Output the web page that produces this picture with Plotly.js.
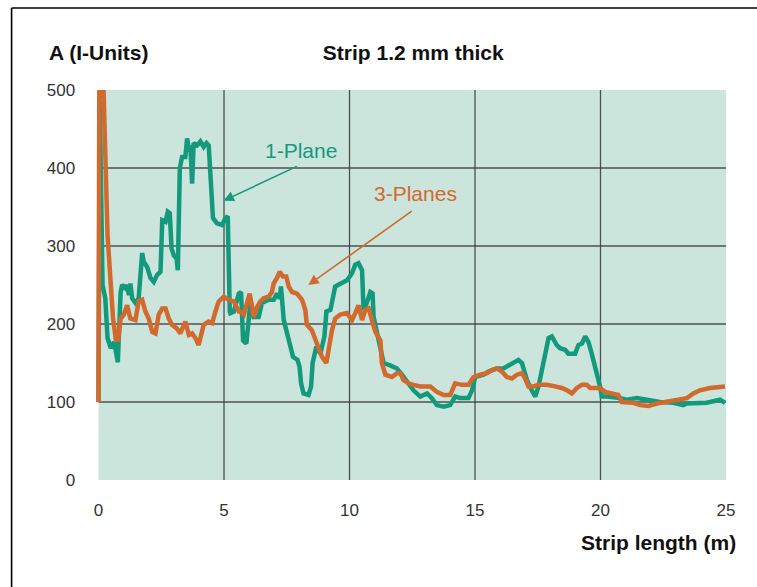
<!DOCTYPE html>
<html>
<head>
<meta charset="utf-8">
<script src="https://cdn.plot.ly/plotly-3.0.1.min.js"></script>
<style>
  html, body { margin: 0; padding: 0; background: #ffffff; }
  #chart { width: 757px; height: 587px; }
</style>
</head>
<body>
<div id="chart"></div>
<script>
// ---- Data ----
const chartTitle = "Strip 1.2 mm thick";
const yTitle = "A (I-Units)";
const xTitle = "Strip length (m)";

const oneName = "1-Plane";
const oneX = [0, 0.05, 0.16, 0.27, 0.36, 0.49, 0.62, 0.77, 0.88, 0.94, 1.07, 1.14, 1.21, 1.27, 1.34, 1.47, 1.60,
  1.74, 1.80, 1.94, 2.07, 2.20, 2.34, 2.47, 2.54, 2.67, 2.76, 2.84, 2.91, 3.00, 3.11, 3.16, 3.24, 3.33, 3.46, 3.53, 3.62,
  3.66, 3.73, 3.79, 3.93, 4.06, 4.19, 4.30, 4.39, 4.46, 4.56, 4.72, 4.92, 5.06, 5.15, 5.23, 5.25, 5.39, 5.59, 5.68, 5.76,
  5.89, 6.05, 6.18, 6.38, 6.51, 6.78, 6.98, 7.11, 7.22, 7.27, 7.38, 7.54, 7.75, 7.93, 8.01, 8.07, 8.17, 8.37, 8.47, 8.53,
  8.68, 8.84, 9.00, 9.08, 9.24, 9.43, 9.63, 9.90, 10.10, 10.23, 10.36, 10.50, 10.56, 10.69, 10.83, 10.92, 10.96, 11.09,
  11.23, 11.36, 11.62, 11.89, 12.09, 12.29, 12.55, 12.82, 13.09, 13.28, 13.48, 13.75, 14.01, 14.21, 14.41, 14.74, 14.88,
  15.01, 15.34, 15.54, 15.87, 16.13, 16.33, 16.53, 16.73, 16.87, 17.07, 17.26, 17.40, 17.53, 17.73, 17.93, 18.06, 18.26,
  18.39, 18.59, 18.72, 18.99, 19.12, 19.26, 19.39, 19.52, 19.65, 19.78, 19.92, 19.98, 20.05, 20.25, 20.78, 21.05, 21.45,
  21.84, 22.37, 22.90, 23.30, 23.44, 23.70, 24.23, 24.63, 24.76, 24.96];
const oneA = [100, 485, 250, 233, 182, 169, 177, 151, 240, 250, 246, 250, 237, 252, 233, 227, 233,
  291, 280, 273, 259, 254, 263, 267, 333, 331, 344, 342, 297, 288, 284, 269, 400, 414, 414, 438, 421,
  429, 380, 432, 429, 434, 427, 432, 429, 387, 336, 329, 327, 336, 338, 216, 214, 216, 239, 241, 179,
  175, 227, 209, 209, 227, 231, 231, 239, 233, 248, 205, 184, 158, 154, 145, 124, 111, 109, 120, 150,
  171, 162, 184, 216, 218, 248, 252, 256, 265, 276, 278, 269, 218, 227, 241, 239, 209, 188,
  171, 150, 147, 143, 135, 126, 115, 107, 111, 105, 96, 94, 96, 107, 105, 105, 115,
  132, 135, 139, 143, 143, 147, 150, 154, 150, 128, 115, 107, 120, 150, 182, 184, 173,
  169, 167, 162, 162, 173, 175, 184, 177, 162, 145, 132, 120, 107, 107, 105, 103, 105,
  103, 100, 99, 96, 98, 98, 99, 102, 103, 99];

const threeName = "3-Planes";
const threeX = [0, 0.03, 0.20, 0.23, 0.29, 0.36, 0.49, 0.58, 0.69, 0.79, 0.88, 1.01, 1.14, 1.27, 1.47, 1.60, 1.74, 1.87, 2.00,
  2.14, 2.27, 2.40, 2.54, 2.67, 2.80, 2.93, 3.13, 3.26, 3.46, 3.60, 3.73, 3.86, 3.99, 4.06, 4.19, 4.39, 4.53, 4.66,
  4.79, 4.99, 5.19, 5.39, 5.59, 5.65, 5.79, 5.92, 6.02, 6.12, 6.18, 6.32, 6.45, 6.58, 6.78, 6.91, 6.98, 7.11, 7.22,
  7.35, 7.48, 7.58, 7.71, 7.91, 8.11, 8.24, 8.30, 8.50, 8.64, 8.77, 8.90, 9.08, 9.17, 9.30, 9.43, 9.63, 9.90, 10.10,
  10.23, 10.36, 10.50, 10.63, 10.76, 10.90, 11.03, 11.23, 11.29, 11.43, 11.69, 11.89, 12.02, 12.15, 12.35, 12.55,
  12.82, 13.22, 13.48, 13.75, 14.01, 14.21, 14.48, 14.74, 14.94, 15.21, 15.47, 15.67, 15.87, 16.07, 16.27, 16.47,
  16.67, 16.87, 17.00, 17.13, 17.33, 17.53, 17.86, 18.19, 18.46, 18.66, 18.86, 19.06, 19.26, 19.45, 19.59, 19.79,
  19.98, 20.18, 20.51, 20.71, 20.85, 21.11, 21.31, 21.58, 21.91, 22.24, 22.64, 23.04, 23.44, 23.70, 23.96, 24.36,
  24.76, 24.96];
const threeA = [100, 500, 500, 464, 378, 314, 250, 207, 180, 180, 207, 212, 224, 207, 205, 229, 231, 216, 207,
  190, 188, 212, 220, 220, 207, 199, 194, 188, 203, 186, 188, 182, 173, 182, 199, 203, 201, 216,
  229, 235, 231, 229, 216, 216, 212, 227, 239, 222, 209, 222, 229, 233, 235, 241, 252, 259, 267,
  261, 261, 248, 241, 239, 231, 218, 199, 192, 179, 167, 158, 150, 167, 192, 207, 212, 214, 205,
  214, 224, 205, 218, 220, 205, 190, 179, 150, 135, 132, 137, 137, 128, 124, 122,
  120, 120, 113, 109, 109, 124, 122, 122, 132, 135, 137, 141, 143, 139, 132, 130,
  135, 137, 130, 120, 120, 122, 122, 120, 118, 115, 111, 118, 122, 122, 118, 118,
  118, 113, 111, 109, 100, 100, 99, 96, 95, 98, 100, 103, 105, 111, 115, 118,
  120, 120];

const xTicks = [0, 5, 10, 15, 20, 25];
const yTicks = [0, 100, 200, 300, 400, 500];
const xGrid = [5, 10, 15, 20];
const yGrid = [100, 200, 300, 400];
const xMin = 0, xMax = 25, yMin = 0, yMax = 500;

// ---- Styles ----
const GREEN = "#139a7c";
const ORANGE = "#d2692d";
const BG = "#cbe4dc";
const GRID = "rgba(55,55,55,0.85)";
const FONT = "Liberation Sans, Arial, Helvetica, sans-serif";

const traces = [
  { x: oneX, y: oneA, name: oneName, type: "scatter", mode: "lines",
    line: { color: GREEN, width: 4.5, shape: "linear" } },
  { x: threeX, y: threeA, name: threeName, type: "scatter", mode: "lines",
    line: { color: ORANGE, width: 4.5, shape: "linear" } }
];

const shapes = [];
// shaded data area
shapes.push({ type: "rect", xref: "x", yref: "y", x0: xMin, x1: xMax, y0: yMin, y1: yMax,
  fillcolor: BG, line: { width: 0 }, layer: "below" });
xGrid.forEach(v => shapes.push({ type: "line", xref: "x", yref: "y", x0: v, x1: v, y0: yMin, y1: yMax,
  line: { color: GRID, width: 1.3 }, layer: "below" }));
yGrid.forEach(v => shapes.push({ type: "line", xref: "x", yref: "y", x0: xMin, x1: xMax, y0: v, y1: v,
  line: { color: GRID, width: 1.3 }, layer: "below" }));
// outer frame (left and top edges)
shapes.push({ type: "line", xref: "paper", yref: "paper", x0: -0.134, x1: -0.134, y0: 1.2103, y1: -0.30,
  line: { color: "#000", width: 1.6 } });
shapes.push({ type: "line", xref: "paper", yref: "paper", x0: -0.134, x1: 1.08, y0: 1.2103, y1: 1.2103,
  line: { color: "#000", width: 1.6 } });

const annotations = [
  { xref: "paper", yref: "paper", x: -0.0785, y: 1.0974, xanchor: "left", yanchor: "middle",
    text: "<b>" + yTitle + "</b>", showarrow: false, font: { family: FONT, size: 21, color: "#111" } },
  { xref: "paper", yref: "paper", x: 1.019, y: -0.1615, xanchor: "right", yanchor: "middle",
    text: "<b>" + xTitle + "</b>", showarrow: false, font: { family: FONT, size: 21, color: "#111" } },
  // series labels
  { x: 8.05, y: 422, xref: "x", yref: "y", text: oneName, showarrow: false,
    font: { family: FONT, size: 21, color: GREEN } },
  { x: 12.62, y: 367, xref: "x", yref: "y", text: threeName, showarrow: false,
    font: { family: FONT, size: 21, color: ORANGE } },
  // arrows
  { x: 4.98, y: 358, ax: 7.96, ay: 403, xref: "x", yref: "y", axref: "x", ayref: "y", text: "",
    showarrow: true, arrowhead: 2, arrowsize: 1.3, arrowwidth: 1.6, arrowcolor: GREEN },
  { x: 8.36, y: 250, ax: 12.54, ay: 346, xref: "x", yref: "y", axref: "x", ayref: "y", text: "",
    showarrow: true, arrowhead: 2, arrowsize: 1.3, arrowwidth: 1.6, arrowcolor: ORANGE }
];

const layout = {
  width: 757, height: 587,
  margin: { l: 95.5, r: 31, t: 90, b: 107, pad: 0 },
  paper_bgcolor: "#ffffff",
  plot_bgcolor: "rgba(0,0,0,0)",
  showlegend: false,
  font: { family: FONT, size: 17, color: "#333" },
  title: { text: "<b>" + chartTitle + "</b>", x: 0.5036, xref: "paper", xanchor: "center",
    y: 0.911, yref: "container", yanchor: "middle", font: { family: FONT, size: 21, color: "#111" } },
  xaxis: { range: [-0.1, 25], tickvals: xTicks, ticktext: xTicks.map(String), showgrid: false, zeroline: false,
    showline: false, ticks: "outside", ticklen: 15, tickcolor: "rgba(0,0,0,0)",
    tickfont: { family: FONT, size: 17, color: "#333" }, fixedrange: true },
  yaxis: { range: [0, 500], tickvals: yTicks, ticktext: yTicks.map(String), showgrid: false, zeroline: false,
    showline: false, ticks: "outside", ticklen: 16.5, tickcolor: "rgba(0,0,0,0)",
    tickfont: { family: FONT, size: 17, color: "#333" }, fixedrange: true },
  shapes: shapes,
  annotations: annotations
};

Plotly.newPlot("chart", traces, layout, { displayModeBar: false, staticPlot: true });
</script>
</body>
</html>
